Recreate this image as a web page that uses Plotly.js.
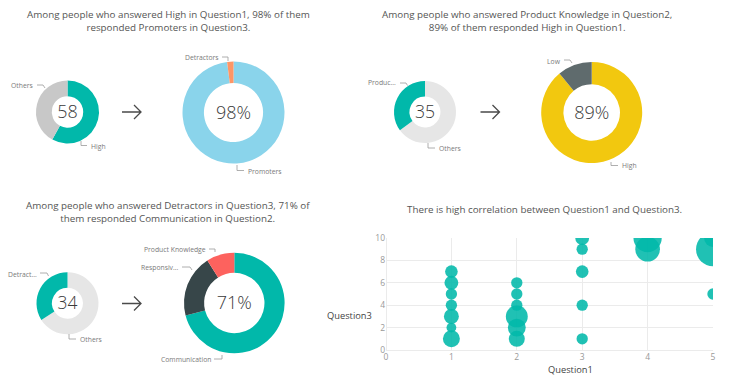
<!DOCTYPE html>
<html>
<head>
<meta charset="utf-8">
<script src="https://cdn.plot.ly/plotly-3.0.1.min.js"></script>
<style>html,body{margin:0;padding:0;background:#fff;}#chart{width:738px;height:376px;}</style>
</head>
<body>
<div id="chart"></div>
<script>
// ---------- DATA ----------
const titles = [
  'Among people who answered High in Question1, 98% of them<br>responded Promoters in Question3.',
  'Among people who answered Product Knowledge in Question2,<br>89% of them responded High in Question1.',
  'Among people who answered Detractors in Question3, 71% of<br>them responded Communication in Question2.',
  'There is high correlation between Question1 and Question3.'
];

const q1Labels = ['High', 'Others'];
const q1Values = [58, 42];
const q1Center = '58';

const q3Labels = ['Promoters', 'Detractors'];
const q3Values = [98, 2];
const q3Center = '98%';

const q2Labels = ['Others', 'Product Knowledge'];
const q2Values = [65, 35];
const q2Center = '35';

const q1bLabels = ['High', 'Low'];
const q1bValues = [89, 11];
const q1bCenter = '89%';

const q3bLabels = ['Others', 'Detractors'];
const q3bValues = [66, 34];
const q3bCenter = '34';

const q2bLabels = ['Communication', 'Responsiveness', 'Product Knowledge'];
const q2bValues = [71, 20, 9];
const q2bCenter = '71%';

const bubbleQ1 = [1, 1, 1, 1, 1, 1, 1, 2, 2, 2, 2, 2, 2, 3, 3, 3, 3, 3, 4, 4, 5, 5, 5];
const bubbleQ3 = [7, 6, 5, 4, 3, 2, 1, 6, 5, 4, 3, 2, 1, 10, 9, 7, 4, 1, 10, 9, 10, 9, 5];
const bubbleCount = [5, 6, 4, 4, 7, 3, 9, 4, 4, 4, 15, 10, 8, 6, 4, 5, 4, 4, 25, 19, 10, 36, 4];

// ---------- LAYOUT HELPERS ----------
const W = 738, H = 376;
const px = x => x / W;
const py = y => 1 - y / H;
const FONT = '"Segoe UI", "Open Sans", "Noto Sans", sans-serif';
const TEAL = '#01B8AA';

function donutDomain(cx, cy, r) {
  return { x: [px(cx - r), px(cx + r)], y: [py(cy + r), py(cy - r)] };
}
function donut(labels, values, colors, center, cx, cy, r, hole) {
  return {
    type: 'pie', labels: labels, values: values, sort: false, direction: 'clockwise', rotation: 0,
    hole: hole, textinfo: 'none', showlegend: false, hoverinfo: 'label+value',
    marker: { colors: colors, line: { width: 0 } },
    domain: donutDomain(cx, cy, r),
    title: { text: center, position: 'middle center', font: { family: FONT, size: 18, color: '#3a3a3a', weight: 300 } }
  };
}

const traces = [
  donut(q1Labels, q1Values, [TEAL, '#C8C8C8'], q1Center, 67.5, 112, 31.5, 0.5),
  donut(q3Labels, q3Values, ['#8AD4EB', '#FE9666'], q3Center, 233.5, 112.5, 51, 0.58),
  donut(q2Labels, q2Values, ['#E6E6E6', TEAL], q2Center, 425, 112, 31, 0.5),
  donut(q1bLabels, q1bValues, ['#F2C80F', '#5F6B6D'], q1bCenter, 591.7, 112.5, 50.5, 0.56),
  donut(q3bLabels, q3bValues, ['#E6E6E6', TEAL], q3bCenter, 67.5, 303.3, 31, 0.5),
  donut(q2bLabels, q2bValues, [TEAL, '#374649', '#FD625E'], q2bCenter, 234.3, 303, 50.3, 0.6),
  {
    type: 'scatter', mode: 'markers', x: bubbleQ1, y: bubbleQ3, showlegend: false,
    xaxis: 'x', yaxis: 'y', cliponaxis: true,
    marker: { size: bubbleCount, sizemode: 'area', sizeref: 0.0625, color: TEAL, opacity: 0.88, line: { width: 0 } },
    hovertemplate: 'Question1: %{x}<br>Question3: %{y}<extra></extra>'
  }
];

// titles
const annotations = [];
function addText(text, x, y, size, color, anchor) {
  annotations.push({ text: text, x: px(x), y: py(y), xref: 'paper', yref: 'paper', showarrow: false,
    xanchor: anchor || 'center', yanchor: 'middle', font: { family: FONT, size: size, color: color } });
}
addText(titles[0], 168.5, 20.5, 9.8, '#555555');
addText(titles[1], 527, 20.5, 9.8, '#555555');
addText(titles[2], 168, 211.5, 9.8, '#555555');
addText(titles[3], 544, 210, 9.8, '#555555');

// slice labels
const sliceLabels = [
  ['Others', 35, 86, 'right'], ['High', 88.5, 146, 'left'],
  ['Detractors', 220.5, 57, 'right'], ['Promoters', 245.5, 171, 'left'],
  ['Produc...', 398, 83, 'right'], ['Others', 437, 149, 'left'],
  ['Low', 562.5, 61, 'right'], ['High', 619.5, 166, 'left'],
  ['Detract...', 38.5, 274, 'right'], ['Others', 78, 339.5, 'left'],
  ['Product Knowledge', 207.5, 249, 'right'], ['Responsiv...', 180.5, 267, 'right'],
  ['Communication', 212.5, 359, 'right']
];
sliceLabels.forEach(l => addText(l[0], l[1], l[2], 6.8, '#7a7a7a', l[3]));

// axis titles
addText('Question3', 325, 315, 9.3, '#444444', 'left');
addText('Question1', 570, 369.5, 9.3, '#444444', 'center');

// leader lines and arrows as paths
function path(cmds) {
  return cmds.map(c => c[0] + ' ' + px(c[1]) + ',' + py(c[2])).join(' ');
}
const leaders = [
  [['M', 37, 85], ['L', 43, 85], ['L', 45, 88]],
  [['M', 81, 141], ['L', 81, 145.5], ['L', 87, 145.5]],
  [['M', 222, 57], ['L', 228, 57], ['L', 228, 61]],
  [['M', 237, 165], ['L', 237, 170.5], ['L', 244, 170.5]],
  [['M', 400, 83], ['L', 406, 83], ['L', 407.5, 85.5]],
  [['M', 428, 143], ['L', 428, 148], ['L', 435, 148]],
  [['M', 564, 60], ['L', 570, 60], ['L', 572, 63]],
  [['M', 611, 162], ['L', 611, 165.5], ['L', 618, 165.5]],
  [['M', 40, 273], ['L', 47, 273], ['L', 48.5, 276]],
  [['M', 69, 334], ['L', 69, 339], ['L', 76, 339]],
  [['M', 209, 249], ['L', 215, 249], ['L', 215, 252]],
  [['M', 182, 267], ['L', 190, 267], ['L', 192, 270]],
  [['M', 214, 359], ['L', 222, 359], ['L', 222, 355]]
];
const shapes = leaders.map(p => ({ type: 'path', xref: 'paper', yref: 'paper', path: path(p),
  line: { color: '#9a9a9a', width: 0.8 } }));

[[131.5, 112], [490, 112], [131.5, 303.5]].forEach(c => {
  const [cx, cy] = c;
  shapes.push({ type: 'path', xref: 'paper', yref: 'paper',
    path: path([['M', cx - 9.5, cy], ['L', cx + 9.5, cy], ['M', cx + 2.5, cy - 7], ['L', cx + 9.5, cy], ['L', cx + 2.5, cy + 7]]),
    line: { color: '#4a4a4a', width: 1.3 } });
});

const layout = {
  width: W, height: H,
  margin: { l: 0, r: 0, t: 0, b: 0 },
  paper_bgcolor: '#ffffff', plot_bgcolor: '#ffffff',
  font: { family: FONT },
  showlegend: false,
  xaxis: {
    domain: [px(386), px(713)], range: [0, 5], dtick: 1, tick0: 0,
    showgrid: true, gridcolor: '#ebebeb', gridwidth: 1, zeroline: true, zerolinecolor: '#ebebeb', zerolinewidth: 1,
    showline: false, ticks: '', fixedrange: true,
    tickfont: { family: FONT, size: 8.5, color: '#999999' }, anchor: 'y'
  },
  yaxis: {
    domain: [py(350), py(238)], range: [0, 10], dtick: 2, tick0: 0,
    showgrid: true, gridcolor: '#ebebeb', gridwidth: 1, zeroline: true, zerolinecolor: '#ebebeb', zerolinewidth: 1,
    showline: false, ticks: '', fixedrange: true,
    tickfont: { family: FONT, size: 8.5, color: '#999999' }, anchor: 'x'
  },
  annotations: annotations,
  shapes: shapes
};

Plotly.newPlot('chart', traces, layout, { displayModeBar: false, staticPlot: true });
</script>
</body>
</html>
